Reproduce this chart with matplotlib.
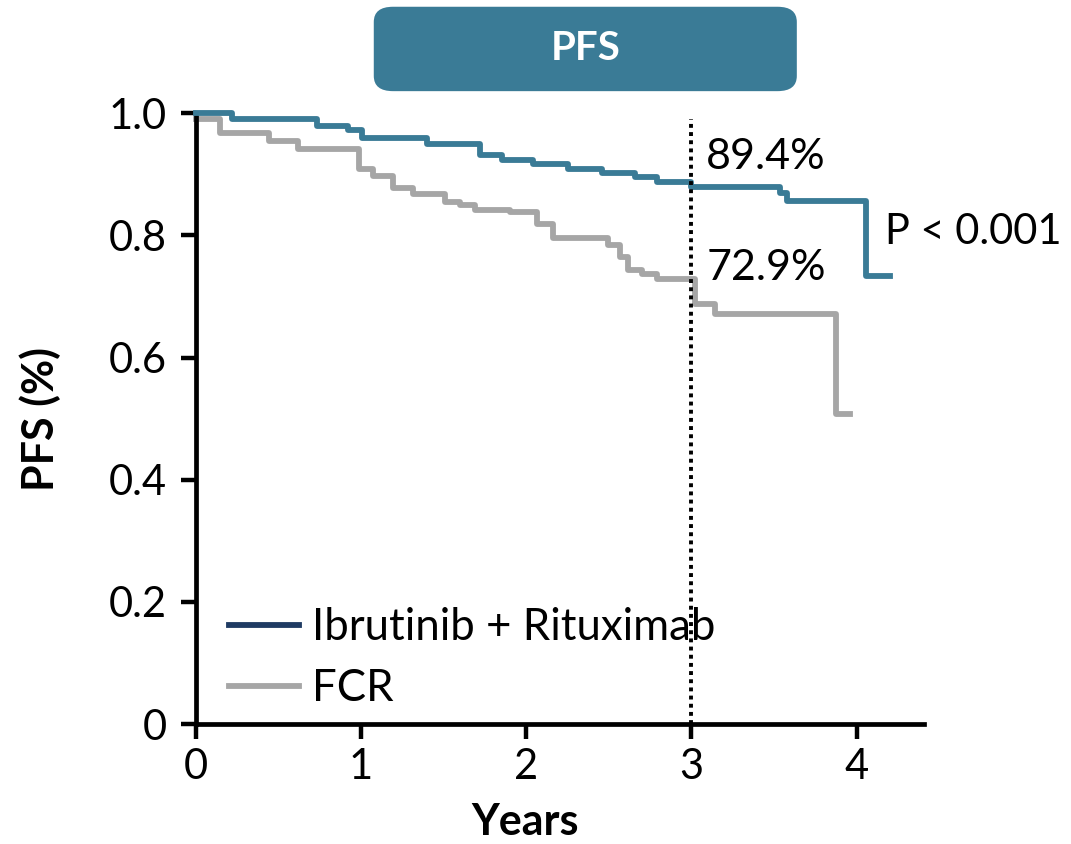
import matplotlib.pyplot as plt
from matplotlib.lines import Line2D
from matplotlib.patches import FancyBboxPatch

plt.rcParams['font.family'] = ['Lato', 'DejaVu Sans']

# Kaplan-Meier step points (time in years, survival probability)
ir_time = [0.0, 0.216, 0.73, 0.92, 1.003, 1.397, 1.719, 1.85, 2.04, 2.25,
           2.456, 2.657, 2.79, 3.0, 3.535, 3.576, 4.06, 4.20]
ir_surv = [1.0, 0.990, 0.979, 0.972, 0.959, 0.949, 0.932, 0.923, 0.916, 0.909,
           0.902, 0.895, 0.887, 0.879, 0.869, 0.856, 0.734, 0.734]

fcr_time = [0.0, 0.145, 0.444, 0.62, 0.987, 1.07, 1.194, 1.315, 1.507, 1.60,
            1.689, 1.90, 2.062, 2.163, 2.496, 2.567, 2.617, 2.70, 2.79, 3.02,
            3.14, 3.878, 3.96]
fcr_surv = [0.990, 0.968, 0.955, 0.942, 0.909, 0.897, 0.878, 0.867, 0.855, 0.849,
            0.841, 0.838, 0.819, 0.795, 0.784, 0.765, 0.743, 0.736, 0.729, 0.688,
            0.671, 0.507, 0.507]

labels = ['Ibrutinib + Rituximab', 'FCR']
rate_3y = ['89.4%', '72.9%']
p_text = 'P < 0.001'

teal = '#3A7B96'
grey = '#A6A6A6'
navy = '#1F3B63'

fig = plt.figure(figsize=(10.71, 8.44), dpi=100)
ax = fig.add_axes([0.183, 0.142, 0.68, 0.724])

ax.step(ir_time, ir_surv, where='post', color=teal, lw=4.2, clip_on=False, zorder=3)
ax.step(fcr_time, fcr_surv, where='post', color=grey, lw=4.2, clip_on=False, zorder=2)

# 3-year landmark
ax.plot([3, 3], [0, 0.99], color='black', lw=2.8, linestyle=(0, (1, 1.1)), zorder=4)

ax.text(3.09, 0.897, rate_3y[0], fontsize=31, ha='left', va='bottom')
ax.text(3.09, 0.716, rate_3y[1], fontsize=31, ha='left', va='bottom')
ax.text(4.17, 0.805, p_text, fontsize=30, ha='left', va='center')

ax.set_xlim(0, 4.41)
ax.set_ylim(0, 1.0)
ax.set_xticks([0, 1, 2, 3, 4])
ax.set_xticklabels(['0', '1', '2', '3', '4'])
ax.set_yticks([0, 0.2, 0.4, 0.6, 0.8, 1.0])
ax.set_yticklabels(['0', '0.2', '0.4', '0.6', '0.8', '1.0'])
ax.tick_params(labelsize=30, length=11, width=3.2, direction='out')
ax.tick_params(axis='x', pad=6)
ax.tick_params(axis='y', pad=10)

for side in ['top', 'right']:
    ax.spines[side].set_visible(False)
for side in ['left', 'bottom']:
    ax.spines[side].set_linewidth(3.4)

ax.set_xlabel('Years', fontsize=31, fontweight='bold', va='center')
ax.set_ylabel('PFS (%)', fontsize=31, fontweight='bold', va='center')
ax.xaxis.set_label_coords(0.452, -0.16)
ax.yaxis.set_label_coords(-0.214, 0.5)

handles = [Line2D([], [], color=navy, lw=4.2), Line2D([], [], color=grey, lw=4.2)]
ax.legend(handles, labels, loc='lower left', bbox_to_anchor=(0.045, 0.025),
          frameon=False, fontsize=31.5, handlelength=1.6, handletextpad=0.3,
          labelspacing=0.45, borderaxespad=0, borderpad=0)

# header banner
banner = FancyBboxPatch((0.349, 0.892), 0.395, 0.1,
                        boxstyle='round,pad=0,rounding_size=0.018',
                        transform=fig.transFigure, facecolor=teal, edgecolor='none')
fig.patches.append(banner)
fig.text(0.547, 0.942, 'PFS', color='white', fontsize=29, fontweight='bold',
         ha='center', va='center')

fig.savefig('out.png', dpi=100)
